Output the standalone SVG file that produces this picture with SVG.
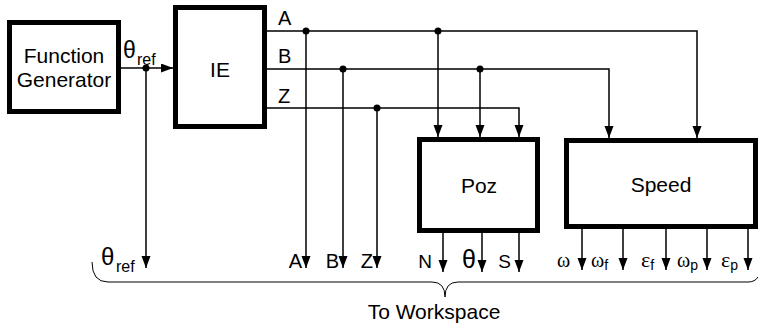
<svg xmlns="http://www.w3.org/2000/svg" width="761" height="328" viewBox="0 0 761 328">
<style>
.box{fill:#fff;stroke:#000;stroke-width:5}
.wire{fill:none;stroke:#000;stroke-width:1.5}
.t{font-family:"Liberation Sans",Arial,sans-serif;fill:#000}
.g{font-family:"Liberation Serif","Times New Roman",serif;fill:#000}
.dot{fill:#000}
</style>
<defs>
<marker id="ah" markerUnits="userSpaceOnUse" markerWidth="13" markerHeight="10" refX="12" refY="4.5" orient="auto">
<path d="M0,0 L12,4.5 L0,9 z" fill="#000"/>
</marker>
</defs>

<g id="function-generator">
<rect class="box" x="9.5" y="22.5" width="109" height="89"/>
<text class="t" x="64" y="63" font-size="21" text-anchor="middle">Function</text>
<text class="t" x="64" y="87" font-size="21" text-anchor="middle">Generator</text>
</g>

<g id="ie">
<rect class="box" x="175.5" y="7.5" width="89" height="119"/>
<text class="t" x="220" y="77" font-size="21" text-anchor="middle">IE</text>
</g>

<g id="poz">
<rect class="box" x="419.5" y="139.5" width="118" height="91"/>
<text class="t" x="479" y="193" font-size="21" text-anchor="middle">Poz</text>
</g>

<g id="speed">
<rect class="box" x="566.5" y="140.5" width="189" height="86"/>
<text class="t" x="661" y="192" font-size="21" text-anchor="middle">Speed</text>
</g>

<g id="connectors">
<path class="wire" d="M121,68 H173" marker-end="url(#ah)"/>
<path class="wire" d="M146,68 V268" marker-end="url(#ah)"/>
<path class="wire" d="M267,31 H697 V138" marker-end="url(#ah)"/>
<path class="wire" d="M267,69 H609 V138" marker-end="url(#ah)"/>
<path class="wire" d="M267,108 H519 V137" marker-end="url(#ah)"/>
<path class="wire" d="M306,31 V268" marker-end="url(#ah)"/>
<path class="wire" d="M343,69 V268" marker-end="url(#ah)"/>
<path class="wire" d="M377,108 V268" marker-end="url(#ah)"/>
<path class="wire" d="M438,31 V137" marker-end="url(#ah)"/>
<path class="wire" d="M480,69 V137" marker-end="url(#ah)"/>
<path class="wire" d="M443,233 V272" marker-end="url(#ah)"/>
<path class="wire" d="M482,233 V272" marker-end="url(#ah)"/>
<path class="wire" d="M519,233 V272" marker-end="url(#ah)"/>
<path class="wire" d="M582,229 V270" marker-end="url(#ah)"/>
<path class="wire" d="M623,229 V270" marker-end="url(#ah)"/>
<path class="wire" d="M666,229 V270" marker-end="url(#ah)"/>
<path class="wire" d="M707,229 V270" marker-end="url(#ah)"/>
<path class="wire" d="M748,229 V270" marker-end="url(#ah)"/>
<circle class="dot" cx="146" cy="68" r="3.5"/>
<circle class="dot" cx="306" cy="31" r="3.5"/>
<circle class="dot" cx="438" cy="31" r="3.5"/>
<circle class="dot" cx="343" cy="69" r="3.5"/>
<circle class="dot" cx="480" cy="69" r="3.5"/>
<circle class="dot" cx="377" cy="108" r="3.5"/>
</g>

<g id="labels">
<text class="t" x="123" y="58" font-size="23">θ</text>
<text class="t" x="137" y="65" font-size="16">ref</text>
<text class="t" x="278" y="25" font-size="20">A</text>
<text class="t" x="278" y="63" font-size="20">B</text>
<text class="t" x="278" y="103" font-size="20">Z</text>
<text class="t" x="101" y="265" font-size="24">θ</text>
<text class="t" x="116" y="272" font-size="16">ref</text>
<text class="t" x="302" y="268" font-size="20" text-anchor="end">A</text>
<text class="t" x="339" y="268" font-size="20" text-anchor="end">B</text>
<text class="t" x="373" y="268" font-size="20" text-anchor="end">Z</text>
<text class="t" x="432" y="268" font-size="19" text-anchor="end">N</text>
<text class="t" x="476" y="268" font-size="25" text-anchor="end">θ</text>
<text class="t" x="511" y="268" font-size="19" text-anchor="end">S</text>
<text class="g" x="557" y="267" font-size="20">ω</text>
<text class="g" x="591" y="267" font-size="20">ω<tspan class="t" font-size="14" dy="3">f</tspan></text>
<text class="g" x="641" y="267" font-size="22">ε<tspan class="t" font-size="14" dy="3">f</tspan></text>
<text class="g" x="677" y="267" font-size="20">ω<tspan class="t" font-size="14" dy="3">p</tspan></text>
<text class="g" x="721" y="267" font-size="22">ε<tspan class="t" font-size="14" dy="3">p</tspan></text>
<path d="M92,262 Q92,282 108,282 L432,282 Q445,282 445,297 Q445,282 458,282 L748,282 Q755,282 758,277" fill="none" stroke="#000" stroke-width="1"/>
<text class="t" x="434" y="319" font-size="21" text-anchor="middle">To Workspace</text>
</g>
</svg>
